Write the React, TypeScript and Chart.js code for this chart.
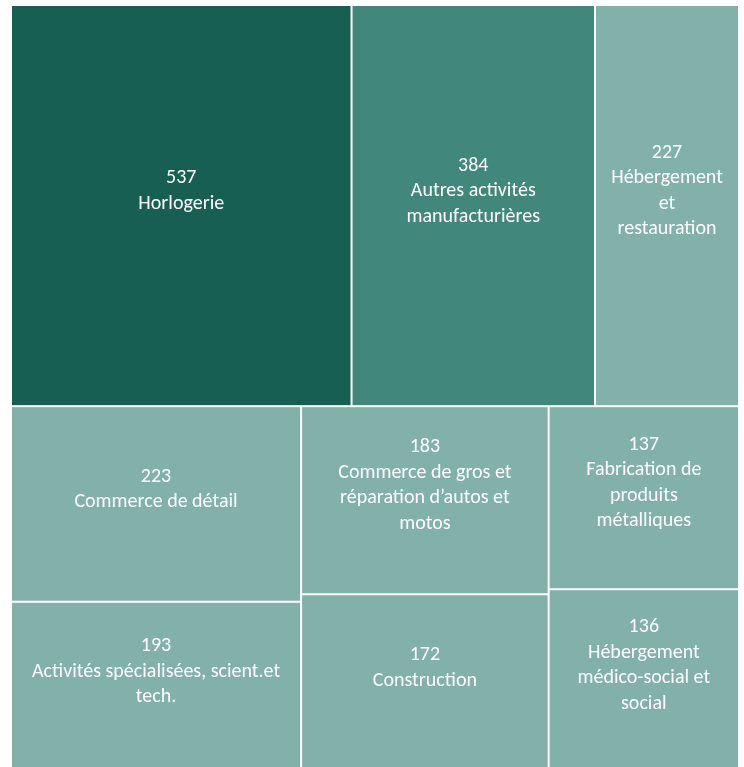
import React, { useEffect, useRef } from "react";
import { Chart, registerables } from "chart.js";

Chart.register(...registerables);

// ---- Data ----
const categories = [
  "Horlogerie",
  "Autres activités manufacturières",
  "Hébergement et restauration",
  "Commerce de détail",
  "Commerce de gros et réparation d’autos et motos",
  "Fabrication de produits métalliques",
  "Activités spécialisées, scient.et tech.",
  "Construction",
  "Hébergement médico-social et social",
];
const values = [537, 384, 227, 223, 183, 137, 193, 172, 136];
// displayed label lines (wrapped as in the original)
const labelLines = [
  ["Horlogerie"],
  ["Autres activités", "manufacturières"],
  ["Hébergement", "et", "restauration"],
  ["Commerce de détail"],
  ["Commerce de gros et", "réparation d’autos et", "motos"],
  ["Fabrication de", "produits", "métalliques"],
  ["Activités spécialisées, scient.et", "tech."],
  ["Construction"],
  ["Hébergement", "médico-social et", "social"],
];
const colorThresholds = [500, 300];
const colorScale = ["#175f53", "#41877b", "#82b1aa"];

function colorFor(v: number): string {
  if (v >= colorThresholds[0]) return colorScale[0];
  if (v >= colorThresholds[1]) return colorScale[1];
  return colorScale[2];
}

type Cell = { i: number; x0: number; y0: number; x1: number; y1: number };

// d3-style squarified layout (golden ratio), values sorted descending
function squarify(vals: number[], w: number, h: number): Cell[] {
  const idx = vals.map((_, i) => i).sort((a, b) => vals[b] - vals[a]);
  const ratio = (1 + Math.sqrt(5)) / 2;
  let x0 = 0, y0 = 0;
  const x1 = w, y1 = h;
  let value = vals.reduce((a, b) => a + b, 0);
  let i0 = 0, i1 = 0;
  const n = idx.length;
  const out: Cell[] = [];
  while (i0 < n) {
    const dx = x1 - x0, dy = y1 - y0;
    let sumValue = vals[idx[i1++]];
    let minV = sumValue, maxV = sumValue;
    const alpha = Math.max(dy / dx, dx / dy) / (value * ratio);
    let beta = sumValue * sumValue * alpha;
    let minRatio = Math.max(maxV / beta, beta / minV);
    for (; i1 < n; ++i1) {
      const nv = vals[idx[i1]];
      sumValue += nv;
      if (nv < minV) minV = nv;
      if (nv > maxV) maxV = nv;
      beta = sumValue * sumValue * alpha;
      const nr = Math.max(maxV / beta, beta / minV);
      if (nr > minRatio) {
        sumValue -= nv;
        break;
      }
      minRatio = nr;
    }
    const row = idx.slice(i0, i1);
    if (dx < dy) {
      const ny = y0 + (dy * sumValue) / value;
      let x = x0;
      for (const k of row) {
        const ww = (dx * vals[k]) / sumValue;
        out.push({ i: k, x0: x, y0: y0, x1: x + ww, y1: ny });
        x += ww;
      }
      y0 = ny;
    } else {
      const nx = x0 + (dx * sumValue) / value;
      let y = y0;
      for (const k of row) {
        const hh = (dy * vals[k]) / sumValue;
        out.push({ i: k, x0: x0, y0: y, x1: nx, y1: y + hh });
        y += hh;
      }
      x0 = nx;
    }
    value -= sumValue;
    i0 = i1;
  }
  return out;
}

const FONT = "Carlito, Calibri, Lato, 'Noto Sans', sans-serif";

const treemapPlugin = {
  id: "treemapCells",
  afterDatasetsDraw(chart: any) {
    const { ctx, chartArea, scales } = chart;
    const xs = scales.x, ys = scales.y;
    const aspect = chartArea.width / chartArea.height;
    const cells = squarify(values, aspect, 1);
    const gap = 1;
    ctx.save();
    for (const c of cells) {
      const px0 = xs.getPixelForValue(c.x0 / aspect);
      const px1 = xs.getPixelForValue(c.x1 / aspect);
      const py0 = ys.getPixelForValue(c.y0);
      const py1 = ys.getPixelForValue(c.y1);
      ctx.fillStyle = colorFor(values[c.i]);
      ctx.fillRect(px0 + gap, py0 + gap, px1 - px0 - 2 * gap, py1 - py0 - 2 * gap);

      const lines = [String(values[c.i]), ...labelLines[c.i]];
      const lh = 25.5;
      const cx = (px0 + px1) / 2;
      const cy = (py0 + py1) / 2 - 14.5;
      const top = cy - ((lines.length - 1) * lh) / 2;
      ctx.fillStyle = "#ffffff";
      ctx.font = `20px ${FONT}`;
      ctx.textAlign = "center";
      ctx.textBaseline = "middle";
      lines.forEach((t, k) => ctx.fillText(t, cx, top + k * lh));
    }
    ctx.restore();
  },
};

export default function App() {
  const ref = useRef<HTMLCanvasElement | null>(null);
  useEffect(() => {
    if (!ref.current) return;
    const chart = new Chart(ref.current, {
      type: "scatter",
      data: { labels: categories, datasets: [{ data: [] }] },
      options: {
        animation: false,
        responsive: false,
        layout: { padding: { left: 11, right: 5, top: 5, bottom: 0 } },
        plugins: { legend: { display: false }, tooltip: { enabled: false } },
        scales: {
          x: { type: "linear", min: 0, max: 1, display: false },
          y: { type: "linear", min: 0, max: 1, reverse: true, display: false },
        },
      },
      plugins: [treemapPlugin],
    });
    return () => chart.destroy();
  }, []);
  return (
    <div style={{ position: "fixed", left: 0, top: 0, width: 744, height: 771, overflow: "hidden" }}>
      <canvas ref={ref} width={744} height={771} />
    </div>
  );
}
